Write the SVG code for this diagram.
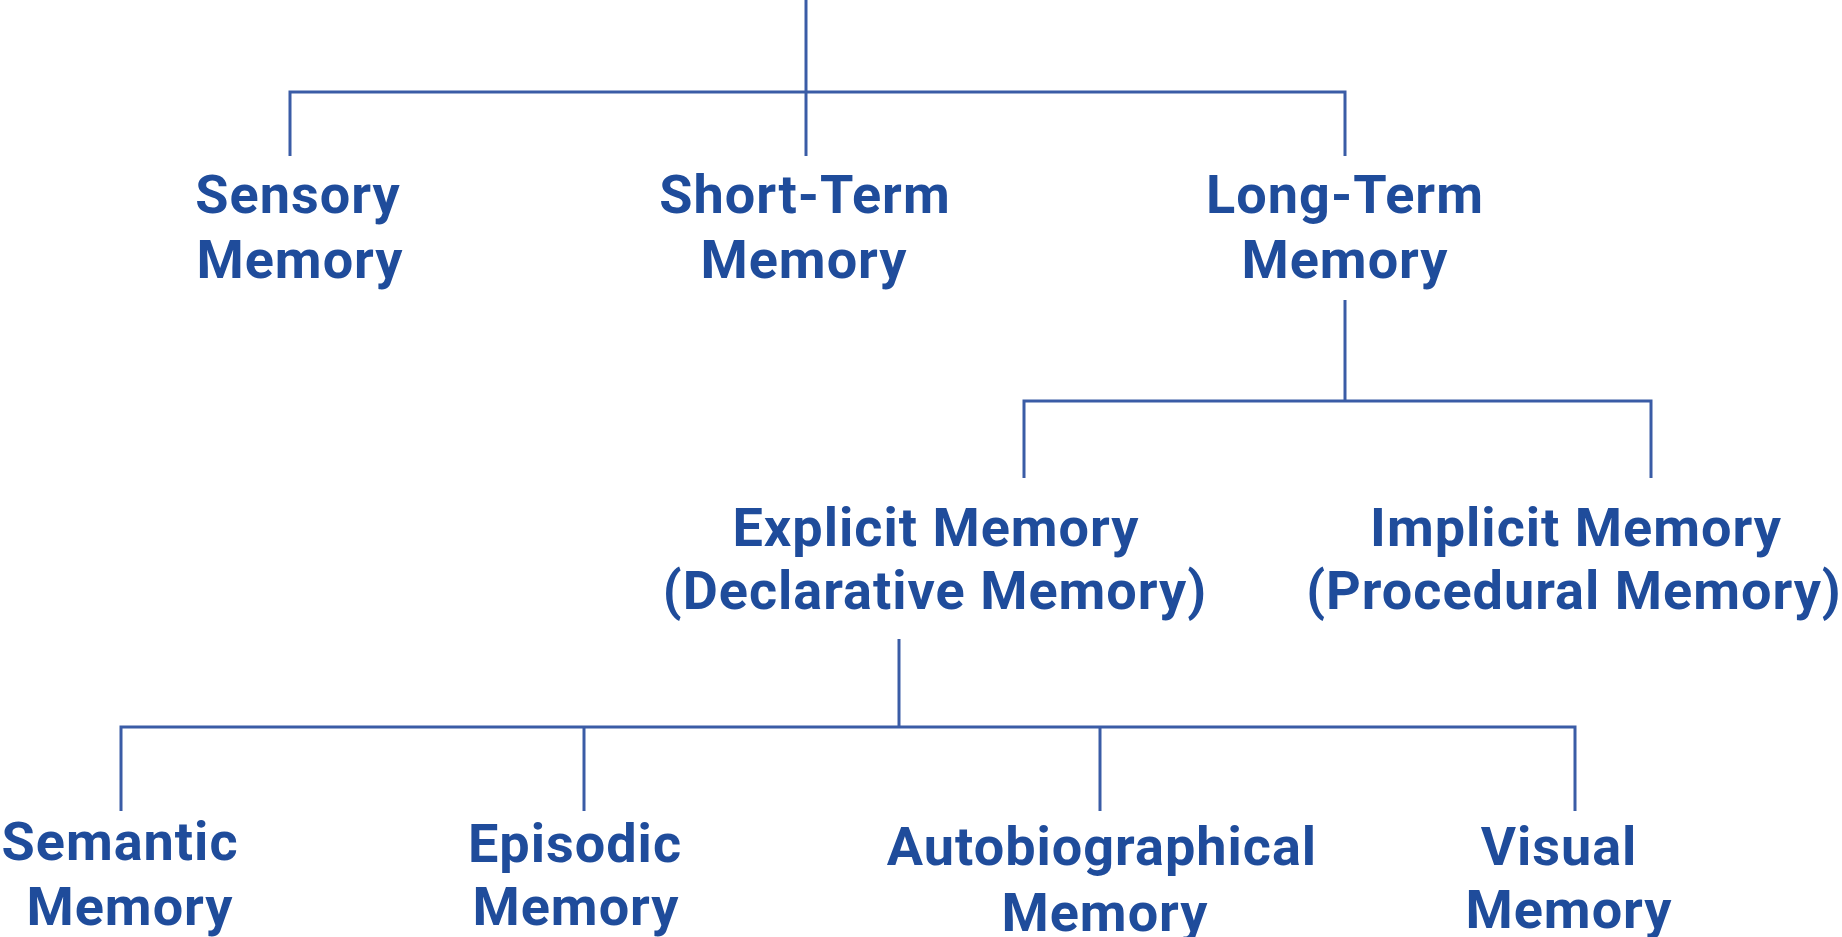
<svg xmlns="http://www.w3.org/2000/svg" width="1842" height="937" viewBox="0 0 1842 937">
<style>
.t{font-family:Roboto,"Liberation Sans",sans-serif;font-weight:700;font-size:54px;letter-spacing:1px;fill:#1f4c9b;text-anchor:middle}
.c{stroke:#3a5ca6;stroke-width:3;fill:none}
</style>
<rect width="1842" height="937" fill="#ffffff"/>
<g id="connectors" class="c">
<path d="M806 0V156"/>
<path d="M290 156V92H1345V156"/>
<path d="M1345 300V401"/>
<path d="M1024 478V401H1651V478"/>
<path d="M899 639V727"/>
<path d="M121 811V727H1575V811"/>
<path d="M584 727V811"/>
<path d="M1100 727V811"/>
</g>
<g id="sensory"><text class="t" x="298" y="213">Sensory</text><text class="t" x="300" y="278">Memory</text></g>
<g id="short-term"><text class="t" x="805" y="213">Short-Term</text><text class="t" x="804" y="278">Memory</text></g>
<g id="long-term"><text class="t" x="1345" y="213">Long-Term</text><text class="t" x="1345" y="278">Memory</text></g>
<g id="explicit"><text class="t" x="936" y="546">Explicit Memory</text><text class="t" x="935" y="609">(Declarative Memory)</text></g>
<g id="implicit"><text class="t" x="1576" y="546">Implicit Memory</text><text class="t" x="1574" y="609">(Procedural Memory)</text></g>
<g id="semantic"><text class="t" x="120" y="860">Semantic</text><text class="t" x="130" y="925">Memory</text></g>
<g id="episodic"><text class="t" x="575" y="862">Episodic</text><text class="t" x="576" y="925">Memory</text></g>
<g id="autobiographical"><text class="t" x="1102" y="865">Autobiographical</text><text class="t" x="1105" y="931">Memory</text></g>
<g id="visual"><text class="t" x="1559" y="865">Visual</text><text class="t" x="1569" y="928">Memory</text></g>
</svg>
